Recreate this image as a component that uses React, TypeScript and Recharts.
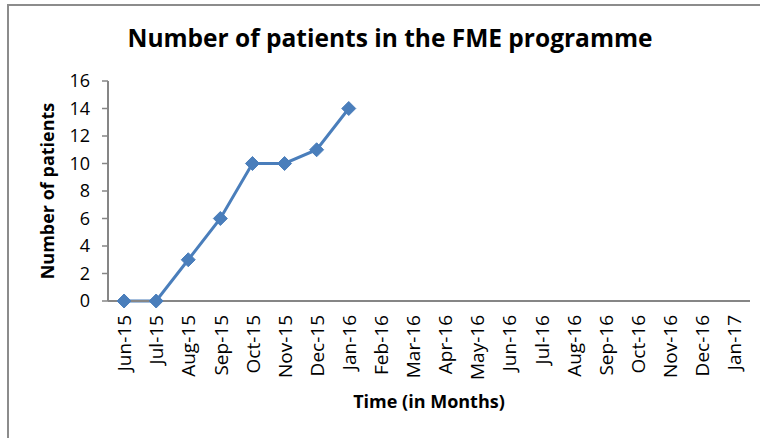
import React from 'react';
import { LineChart, Line, XAxis, YAxis } from 'recharts';

const MONTHS = [
  'Jun-15', 'Jul-15', 'Aug-15', 'Sep-15', 'Oct-15', 'Nov-15', 'Dec-15', 'Jan-16',
  'Feb-16', 'Mar-16', 'Apr-16', 'May-16', 'Jun-16', 'Jul-16', 'Aug-16', 'Sep-16',
  'Oct-16', 'Nov-16', 'Dec-16', 'Jan-17',
];
const PATIENTS = [0, 0, 3, 6, 10, 10, 11, 14];
const Y_TICKS = [0, 2, 4, 6, 8, 10, 12, 14, 16];
const BOUNDARY_TICKS = MONTHS.map((_, i) => i).concat([MONTHS.length]);

const TITLE = 'Number of patients in the FME programme';
const X_TITLE = 'Time (in Months)';
const Y_TITLE = 'Number of patients';

const data = MONTHS.map((month, i) => ({
  month,
  patients: i < PATIENTS.length ? PATIENTS[i] : null,
}));

const BLUE = '#4A7EBB';
const AXIS = '#868686';
const FONT = '"Open Sans", sans-serif';

const Diamond = (props: any) => {
  const { cx, cy, index, value } = props;
  if (cx == null || cy == null || value == null) return <g key={`d-${index}`} />;
  const r = 7;
  return (
    <polygon
      key={`d-${index}`}
      points={`${cx},${cy - r} ${cx + r},${cy} ${cx},${cy + r} ${cx - r},${cy}`}
      fill={BLUE}
      stroke={BLUE}
      strokeWidth={1}
    />
  );
};

const MonthTick = (props: any) => {
  const { x, y, payload } = props;
  return (
    <g transform={`translate(${x},${y})`}>
      <text
        transform="rotate(-90)"
        textAnchor="end"
        dy="0.38em"
        fontFamily={FONT}
        fontSize={19}
        fill="#000"
      >
        {payload.value}
      </text>
    </g>
  );
};

export default function App() {
  return (
    <div style={{ position: 'absolute', left: 0, top: 0, width: 760, height: 438, overflow: 'hidden', background: '#fff' }}>
      <div
        style={{
          position: 'absolute', left: 7, top: 4, width: 800, height: 480,
          border: '2px solid #8c8c8c', boxSizing: 'border-box',
        }}
      />
      <div
        style={{
          position: 'absolute', left: 0, width: 780, top: 20, textAlign: 'center',
          fontFamily: FONT, fontWeight: 700, fontSize: 24.5, color: '#000', lineHeight: '36px',
        }}
      >
        {TITLE}
      </div>
      <div style={{ position: 'absolute', left: 0, top: 0 }}>
        <LineChart width={760} height={438} data={data} margin={{ top: 81, right: 10, bottom: 0, left: 0 }}>
          <XAxis
            xAxisId="b-cat"
            dataKey="month"
            type="category"
            scale="band"
            interval={0}
            axisLine={false}
            tickLine={false}
            tickSize={0}
            tickMargin={7}
            height={130}
            tick={<MonthTick />}
            label={{
              value: X_TITLE,
              position: 'insideBottom',
              offset: 30,
              style: { fontFamily: FONT, fontWeight: 700, fontSize: 18, fill: '#000' },
            }}
          />
          <XAxis
            xAxisId="a-marks"
            type="number"
            domain={[0, MONTHS.length]}
            ticks={BOUNDARY_TICKS}
            tick={false}
            tickSize={6}
            height={7}
            stroke={AXIS}
            axisLine={{ stroke: AXIS, strokeWidth: 2 }}
            tickLine={{ stroke: AXIS, strokeWidth: 1.5 }}
          />
          <YAxis
            domain={[0, 16]}
            ticks={Y_TICKS}
            interval={0}
            width={108}
            tickSize={6}
            tickMargin={12}
            stroke={AXIS}
            axisLine={{ stroke: AXIS, strokeWidth: 2 }}
            tickLine={{ stroke: AXIS, strokeWidth: 1.5 }}
            tick={{ fontFamily: FONT, fontSize: 18, fill: '#000' }}
            label={{
              value: Y_TITLE,
              angle: -90,
              position: 'insideLeft',
              offset: 48,
              style: { textAnchor: 'middle', fontFamily: FONT, fontWeight: 700, fontSize: 18, fill: '#000' },
            }}
          />
          <Line
            xAxisId="b-cat"
            dataKey="patients"
            stroke={BLUE}
            strokeWidth={3}
            dot={Diamond}
            activeDot={false}
            isAnimationActive={false}
          />
        </LineChart>
      </div>
    </div>
  );
}
